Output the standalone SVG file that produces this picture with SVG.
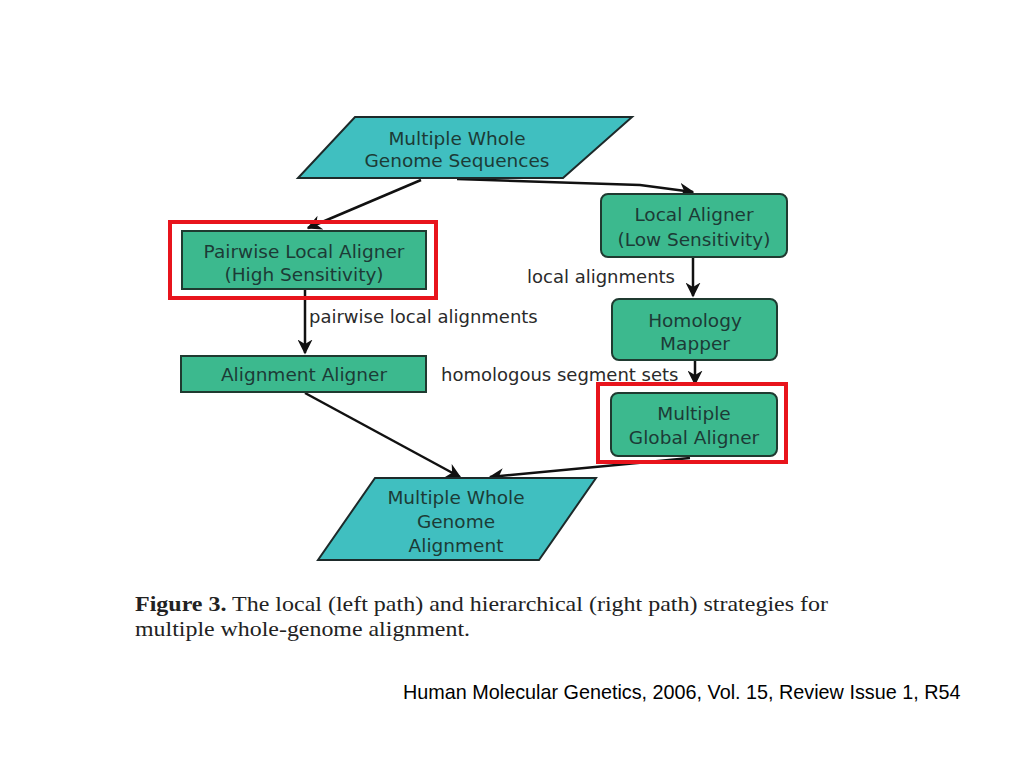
<svg xmlns="http://www.w3.org/2000/svg" width="1024" height="768" viewBox="0 0 1024 768">
<defs>
<marker id="ah" viewBox="0 0 10 10" refX="9" refY="5" markerWidth="6" markerHeight="6" orient="auto" markerUnits="strokeWidth">
<path d="M0,0 L10,5 L0,10 L3,5 z" fill="#111"/>
</marker>
<style>
.para{fill:#40bfc0;stroke:#1d2a2a;stroke-width:2}
.box{fill:#3cb98e;stroke:#1f3a30;stroke-width:2}
.red{fill:none;stroke:#e8141c;stroke-width:4}
.nt{font-family:"DejaVu Sans","Liberation Sans",sans-serif;font-size:18.5px;fill:#1c3b36;text-anchor:middle}
.lbl{font-family:"DejaVu Sans","Liberation Sans",sans-serif;font-size:18px;fill:#2a2a2a}
.conn{fill:none;stroke:#111;stroke-width:2.5;marker-end:url(#ah)}
.cap{font-family:"Liberation Serif",serif;font-size:21px;fill:#222}
.cite{font-family:"Liberation Sans",Arial,sans-serif;font-size:19.8px;fill:#000}
</style>
</defs>
<rect width="1024" height="768" fill="#fff"/>
<g id="connectors">
<path class="conn" d="M421,180 L308,228"/>
<path class="conn" d="M457,179 L640,185 L693,192"/>
<path class="conn" d="M305,290 L305,353"/>
<path class="conn" d="M693,257 L693,296"/>
<path class="conn" d="M695,361 L695,384"/>
<path class="conn" d="M305,393 L460,477"/>
<path class="conn" d="M690,458 L490,477"/>
</g>
<g id="n-input">
<polygon class="para" points="355,117 632,117 563,178 298,178"/>
<text class="nt" x="457" y="145">Multiple Whole</text>
<text class="nt" x="457" y="167">Genome Sequences</text>
</g>
<g id="n-pairwise">
<rect class="box" x="182" y="231" width="244" height="58"/>
<text class="nt" x="304" y="258">Pairwise Local Aligner</text>
<text class="nt" x="304" y="281">(High Sensitivity)</text>
<rect class="red" x="170" y="222" width="266" height="76"/>
</g>
<g id="n-local">
<rect class="box" x="601" y="194" width="186" height="63" rx="7"/>
<text class="nt" x="694" y="221">Local Aligner</text>
<text class="nt" x="694" y="246">(Low Sensitivity)</text>
</g>
<g id="n-homology">
<rect class="box" x="612" y="299" width="165" height="61" rx="7"/>
<text class="nt" x="695" y="327">Homology</text>
<text class="nt" x="695" y="350">Mapper</text>
</g>
<g id="n-alignaligner">
<rect class="box" x="181" y="356" width="245" height="36"/>
<text class="nt" x="304" y="381">Alignment Aligner</text>
</g>
<g id="n-global">
<rect class="box" x="611" y="393" width="166" height="63" rx="7"/>
<text class="nt" x="694" y="420">Multiple</text>
<text class="nt" x="694" y="444">Global Aligner</text>
<rect class="red" x="598" y="384" width="188" height="78"/>
</g>
<g id="n-output">
<polygon class="para" points="375,478 596,478 539,560 318,560"/>
<text class="nt" x="456" y="504">Multiple Whole</text>
<text class="nt" x="456" y="528">Genome</text>
<text class="nt" x="456" y="552">Alignment</text>
</g>
<g id="labels">
<text class="lbl" x="527" y="283">local alignments</text>
<text class="lbl" x="309" y="323">pairwise local alignments</text>
<text class="lbl" x="441" y="381">homologous segment sets</text>
</g>
<g id="caption">
<text class="cap" x="135" y="611" textLength="693" lengthAdjust="spacingAndGlyphs"><tspan font-weight="bold">Figure 3.</tspan> The local (left path) and hierarchical (right path) strategies for</text>
<text class="cap" x="135" y="636" textLength="335" lengthAdjust="spacingAndGlyphs">multiple whole-genome alignment.</text>
<text class="cite" x="403" y="699">Human Molecular Genetics, 2006, Vol. 15, Review Issue 1, R54</text>
</g>
</svg>
